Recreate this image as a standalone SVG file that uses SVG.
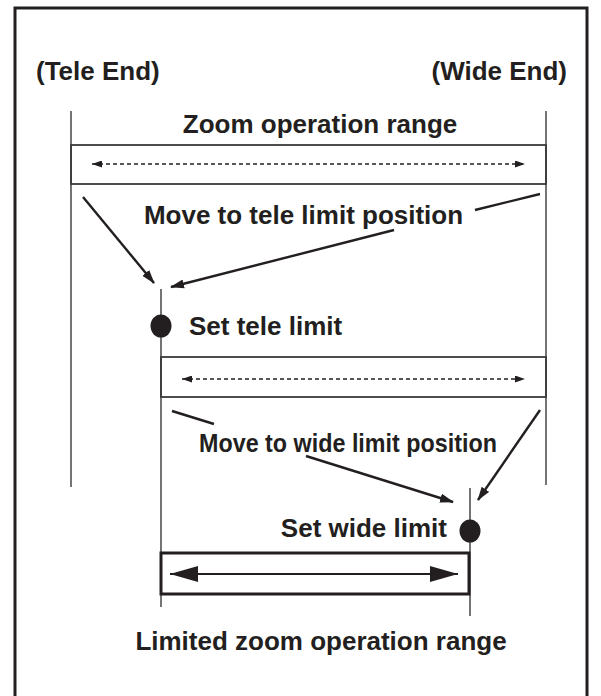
<svg xmlns="http://www.w3.org/2000/svg" width="601" height="696" viewBox="0 0 601 696">
<style>
text{font-family:"Liberation Sans",Arial,sans-serif;font-weight:bold;fill:#231f20;}
.lbl{font-size:26px;}
.thin{stroke:#3a3a3a;stroke-width:1.4;fill:none;}
.box{stroke:#3a3a3a;stroke-width:1.8;fill:none;}
.dash{stroke:#231f20;stroke-width:1.3;stroke-dasharray:4 3;fill:none;}
.arr{stroke:#231f20;stroke-width:2.4;fill:none;}
.head{fill:#231f20;}
</style>
<defs>
<marker id="ah" markerWidth="14" markerHeight="10" refX="13" refY="5" orient="auto" markerUnits="userSpaceOnUse">
<path d="M0,0.5 L14,5 L0,9.5 Z" class="head"/>
</marker>
<marker id="sh" markerWidth="10" markerHeight="7" refX="10" refY="3.5" orient="auto-start-reverse" markerUnits="userSpaceOnUse">
<path d="M0,0 L10,3.5 L0,7 Z" class="head"/>
</marker>
<marker id="bh" markerWidth="28" markerHeight="16" refX="28" refY="8" orient="auto-start-reverse" markerUnits="userSpaceOnUse">
<path d="M0,0 L28,8 L0,16 Z" class="head"/>
</marker>
</defs>
<rect x="0" y="0" width="601" height="696" fill="#fff"/>
<rect id="frame" x="15" y="8" width="572" height="700" fill="none" stroke="#231f20" stroke-width="3"/>

<g id="tele-end"><text class="lbl" x="36" y="80">(Tele End)</text></g>
<g id="wide-end"><text class="lbl" x="567" y="80" text-anchor="end">(Wide End)</text></g>

<g id="zoom-range">
<line class="thin" x1="71" y1="111" x2="71" y2="487"/>
<line class="thin" x1="546" y1="111" x2="546" y2="485"/>
<text class="lbl" x="320" y="133" text-anchor="middle">Zoom operation range</text>
<rect class="box" x="71" y="145" width="475" height="39"/>
</g>

<g id="tele-limit">
<line class="thin" x1="161" y1="289" x2="161" y2="607"/>
<ellipse cx="161" cy="326" rx="10.5" ry="11.5" class="head"/>
<text class="lbl" x="189" y="335">Set tele limit</text>
</g>

<g id="move-tele"><text class="lbl" x="303.5" y="224" text-anchor="middle">Move to tele limit position</text></g>

<g id="range-after-tele">
<rect class="box" x="161" y="357" width="385" height="40"/>
</g>

<g id="move-wide"><text class="lbl" x="199" y="452" font-size="28" textLength="298" lengthAdjust="spacingAndGlyphs">Move to wide limit position</text></g>

<g id="wide-limit">
<line class="thin" x1="470" y1="488" x2="470" y2="616"/>
<ellipse cx="470" cy="531" rx="10.5" ry="11.5" class="head"/>
<text class="lbl" x="447" y="537" text-anchor="end">Set wide limit</text>
</g>

<g id="limited-range">
<rect x="161" y="553" width="308" height="41" fill="none" stroke="#231f20" stroke-width="3"/>
<text class="lbl" x="321" y="650" text-anchor="middle">Limited zoom operation range</text>
</g>

<g id="connectors">
<line class="dash" x1="92" y1="164" x2="525" y2="164" marker-start="url(#sh)" marker-end="url(#sh)"/>
<line class="dash" x1="182" y1="379" x2="525" y2="379" marker-start="url(#sh)" marker-end="url(#sh)"/>
<line class="arr" x1="83" y1="197" x2="154" y2="283" marker-end="url(#ah)"/>
<line class="arr" x1="540" y1="194" x2="475" y2="210"/>
<line class="arr" x1="394" y1="230" x2="171" y2="287" marker-end="url(#ah)"/>
<line class="arr" x1="172" y1="411" x2="214" y2="424"/>
<line class="arr" x1="306" y1="456" x2="453" y2="502" marker-end="url(#ah)"/>
<line class="arr" x1="540" y1="410" x2="478" y2="500" marker-end="url(#ah)"/>
<line stroke="#231f20" stroke-width="2.2" x1="170" y1="574" x2="458" y2="574" marker-start="url(#bh)" marker-end="url(#bh)"/>
</g>
</svg>
